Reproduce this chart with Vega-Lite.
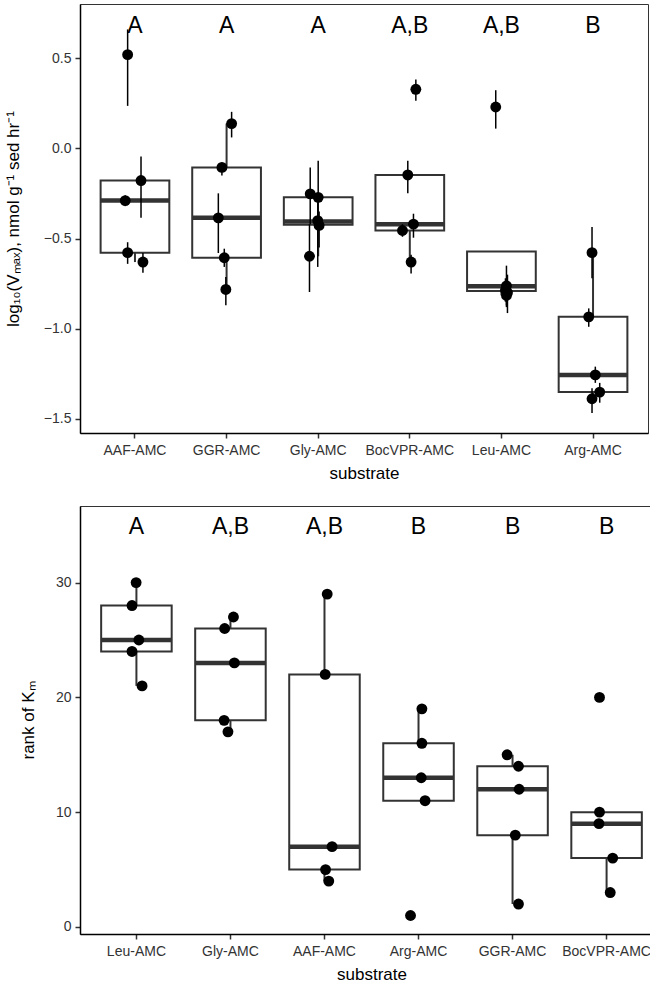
{
  "$schema": "https://vega.github.io/schema/vega-lite/v6.json",
  "background": "white",
  "padding": {"left": 3, "top": 3, "right": 2, "bottom": 0},
  "spacing": 23,
  "config": {
    "font": "Liberation Sans",
    "view": {"stroke": "#333333", "strokeWidth": 1},
    "axis": {
      "grid": false,
      "domainColor": "#000000",
      "domainWidth": 1.5,
      "tickColor": "#333333",
      "tickWidth": 1.5,
      "tickSize": 5,
      "labelColor": "#333333",
      "labelFontSize": 14,
      "labelFont": "Liberation Sans",
      "titleFont": "Liberation Sans",
      "titleFontSize": 17,
      "titleFontWeight": "normal",
      "titleColor": "#000000"
    }
  },
  "datasets": {
    "vmaxPoints": [
      {"substrate": "AAF-AMC", "value": 0.52, "lo": 0.236, "hi": 0.66, "jitter": -0.08},
      {"substrate": "AAF-AMC", "value": -0.178, "lo": -0.385, "hi": -0.044, "jitter": 0.066},
      {"substrate": "AAF-AMC", "value": -0.289, "lo": -0.32, "hi": -0.26, "jitter": -0.106},
      {"substrate": "AAF-AMC", "value": -0.578, "lo": -0.64, "hi": -0.52, "jitter": -0.08},
      {"substrate": "AAF-AMC", "value": -0.63, "lo": -0.69, "hi": -0.58, "jitter": 0.087},
      {"substrate": "GGR-AMC", "value": 0.138, "lo": 0.061, "hi": 0.203, "jitter": 0.055},
      {"substrate": "GGR-AMC", "value": -0.105, "lo": -0.15, "hi": -0.08, "jitter": -0.051},
      {"substrate": "GGR-AMC", "value": -0.385, "lo": -0.58, "hi": -0.249, "jitter": -0.09},
      {"substrate": "GGR-AMC", "value": -0.606, "lo": -0.657, "hi": -0.556, "jitter": -0.025},
      {"substrate": "GGR-AMC", "value": -0.782, "lo": -0.869, "hi": -0.713, "jitter": -0.008},
      {"substrate": "Gly-AMC", "value": -0.252, "lo": -0.42, "hi": -0.105, "jitter": -0.087},
      {"substrate": "Gly-AMC", "value": -0.271, "lo": -0.45, "hi": -0.068, "jitter": 0.0},
      {"substrate": "Gly-AMC", "value": -0.4, "lo": -0.657, "hi": -0.25, "jitter": -0.005},
      {"substrate": "Gly-AMC", "value": -0.427, "lo": -0.55, "hi": -0.35, "jitter": 0.01},
      {"substrate": "Gly-AMC", "value": -0.598, "lo": -0.796, "hi": -0.42, "jitter": -0.095},
      {"substrate": "BocVPR-AMC", "value": 0.328, "lo": 0.264, "hi": 0.383, "jitter": 0.066},
      {"substrate": "BocVPR-AMC", "value": -0.147, "lo": -0.249, "hi": -0.068, "jitter": -0.022},
      {"substrate": "BocVPR-AMC", "value": -0.42, "lo": -0.495, "hi": -0.362, "jitter": 0.04},
      {"substrate": "BocVPR-AMC", "value": -0.455, "lo": -0.49, "hi": -0.42, "jitter": -0.08},
      {"substrate": "BocVPR-AMC", "value": -0.63, "lo": -0.694, "hi": -0.59, "jitter": 0.014},
      {"substrate": "Leu-AMC", "value": 0.23, "lo": 0.11, "hi": 0.323, "jitter": -0.062},
      {"substrate": "Leu-AMC", "value": -0.762, "lo": -0.87, "hi": -0.65, "jitter": 0.055},
      {"substrate": "Leu-AMC", "value": -0.785, "lo": -0.85, "hi": -0.72, "jitter": 0.044},
      {"substrate": "Leu-AMC", "value": -0.8, "lo": -0.913, "hi": -0.7, "jitter": 0.066},
      {"substrate": "Leu-AMC", "value": -0.815, "lo": -0.88, "hi": -0.76, "jitter": 0.055},
      {"substrate": "Arg-AMC", "value": -0.578, "lo": -0.72, "hi": -0.436, "jitter": -0.011},
      {"substrate": "Arg-AMC", "value": -0.934, "lo": -0.989, "hi": -0.887, "jitter": -0.047},
      {"substrate": "Arg-AMC", "value": -1.256, "lo": -1.3, "hi": -1.21, "jitter": 0.025},
      {"substrate": "Arg-AMC", "value": -1.351, "lo": -1.41, "hi": -1.3, "jitter": 0.073},
      {"substrate": "Arg-AMC", "value": -1.388, "lo": -1.467, "hi": -1.33, "jitter": -0.011}
    ],
    "vmaxBoxes": [
      {"substrate": "AAF-AMC", "lower": -0.63, "q1": -0.578, "median": -0.289, "q3": -0.178, "upper": -0.178},
      {"substrate": "GGR-AMC", "lower": -0.782, "q1": -0.606, "median": -0.385, "q3": -0.105, "upper": 0.138},
      {"substrate": "Gly-AMC", "lower": -0.598, "q1": -0.423, "median": -0.405, "q3": -0.271, "upper": -0.252},
      {"substrate": "BocVPR-AMC", "lower": -0.63, "q1": -0.455, "median": -0.42, "q3": -0.147, "upper": -0.147},
      {"substrate": "Leu-AMC", "lower": -0.815, "q1": -0.79, "median": -0.764, "q3": -0.571, "upper": -0.571},
      {"substrate": "Arg-AMC", "lower": -1.388, "q1": -1.351, "median": -1.256, "q3": -0.934, "upper": -0.578}
    ],
    "vmaxLetters": [
      {"substrate": "AAF-AMC", "label": "A"},
      {"substrate": "GGR-AMC", "label": "A"},
      {"substrate": "Gly-AMC", "label": "A"},
      {"substrate": "BocVPR-AMC", "label": "A,B"},
      {"substrate": "Leu-AMC", "label": "A,B"},
      {"substrate": "Arg-AMC", "label": "B"}
    ],
    "kmPoints": [
      {"substrate": "Leu-AMC", "rank": 30, "jitter": 0.01},
      {"substrate": "Leu-AMC", "rank": 28, "jitter": -0.035},
      {"substrate": "Leu-AMC", "rank": 25, "jitter": 0.04},
      {"substrate": "Leu-AMC", "rank": 24, "jitter": -0.035},
      {"substrate": "Leu-AMC", "rank": 21, "jitter": 0.075},
      {"substrate": "Gly-AMC", "rank": 27, "jitter": 0.046},
      {"substrate": "Gly-AMC", "rank": 26, "jitter": -0.05},
      {"substrate": "Gly-AMC", "rank": 23, "jitter": 0.056},
      {"substrate": "Gly-AMC", "rank": 18, "jitter": -0.056},
      {"substrate": "Gly-AMC", "rank": 17, "jitter": -0.014},
      {"substrate": "AAF-AMC", "rank": 29, "jitter": 0.043},
      {"substrate": "AAF-AMC", "rank": 22, "jitter": 0.021},
      {"substrate": "AAF-AMC", "rank": 7, "jitter": 0.096},
      {"substrate": "AAF-AMC", "rank": 5, "jitter": 0.025},
      {"substrate": "AAF-AMC", "rank": 4, "jitter": 0.06},
      {"substrate": "Arg-AMC", "rank": 19, "jitter": 0.05},
      {"substrate": "Arg-AMC", "rank": 16, "jitter": 0.05},
      {"substrate": "Arg-AMC", "rank": 13, "jitter": 0.043},
      {"substrate": "Arg-AMC", "rank": 11, "jitter": 0.085},
      {"substrate": "Arg-AMC", "rank": 1, "jitter": -0.074},
      {"substrate": "GGR-AMC", "rank": 15, "jitter": -0.046},
      {"substrate": "GGR-AMC", "rank": 14, "jitter": 0.078},
      {"substrate": "GGR-AMC", "rank": 12, "jitter": 0.085},
      {"substrate": "GGR-AMC", "rank": 8, "jitter": 0.043},
      {"substrate": "GGR-AMC", "rank": 2, "jitter": 0.078},
      {"substrate": "BocVPR-AMC", "rank": 20, "jitter": -0.064},
      {"substrate": "BocVPR-AMC", "rank": 10, "jitter": -0.064},
      {"substrate": "BocVPR-AMC", "rank": 9, "jitter": -0.07},
      {"substrate": "BocVPR-AMC", "rank": 6, "jitter": 0.08},
      {"substrate": "BocVPR-AMC", "rank": 3, "jitter": 0.053}
    ],
    "kmBoxes": [
      {"substrate": "Leu-AMC", "lower": 21, "q1": 24, "median": 25, "q3": 28, "upper": 30},
      {"substrate": "Gly-AMC", "lower": 17, "q1": 18, "median": 23, "q3": 26, "upper": 27},
      {"substrate": "AAF-AMC", "lower": 4, "q1": 5, "median": 7, "q3": 22, "upper": 29},
      {"substrate": "Arg-AMC", "lower": 11, "q1": 11, "median": 13, "q3": 16, "upper": 19},
      {"substrate": "GGR-AMC", "lower": 2, "q1": 8, "median": 12, "q3": 14, "upper": 15},
      {"substrate": "BocVPR-AMC", "lower": 3, "q1": 6, "median": 9, "q3": 10, "upper": 10}
    ],
    "kmLetters": [
      {"substrate": "Leu-AMC", "label": "A"},
      {"substrate": "Gly-AMC", "label": "A,B"},
      {"substrate": "AAF-AMC", "label": "A,B"},
      {"substrate": "Arg-AMC", "label": "B"},
      {"substrate": "GGR-AMC", "label": "B"},
      {"substrate": "BocVPR-AMC", "label": "B"}
    ]
  },
  "vconcat": [
    {
      "width": 568,
      "height": 429,
      "layer": [
        {
          "data": {"name": "vmaxBoxes"},
          "mark": {"type": "rule", "color": "#333333", "strokeWidth": 2},
          "encoding": {
            "x": {"field": "substrate", "type": "nominal",
                  "scale": {"type": "band", "domain": ["AAF-AMC", "GGR-AMC", "Gly-AMC", "BocVPR-AMC", "Leu-AMC", "Arg-AMC"], "paddingInner": 0, "paddingOuter": 0.1},
                  "axis": {"title": "substrate", "labelAngle": 0, "labelPadding": 5, "titlePadding": 8.5}},
            "y": {"field": "lower", "type": "quantitative",
                  "scale": {"domain": [-1.578, 0.801], "nice": false, "zero": false},
                  "axis": {"title": "log₁₀(Vₘₐₓ), nmol g⁻¹ sed hr⁻¹", "values": [-1.5, -1, -0.5, 0, 0.5], "format": ".1f", "minExtent": 54, "maxExtent": 54, "titlePadding": 4, "labelPadding": 4}},
            "y2": {"field": "q1"}
          }
        },
        {
          "data": {"name": "vmaxBoxes"},
          "mark": {"type": "rule", "color": "#333333", "strokeWidth": 2},
          "encoding": {
            "x": {"field": "substrate", "type": "nominal", "title": "substrate"},
            "y": {"field": "q3", "type": "quantitative", "title": "log₁₀(Vₘₐₓ), nmol g⁻¹ sed hr⁻¹"},
            "y2": {"field": "upper"}
          }
        },
        {
          "data": {"name": "vmaxBoxes"},
          "mark": {"type": "rect", "fill": "white", "stroke": "#333333", "strokeWidth": 2},
          "encoding": {
            "x": {"field": "substrate", "type": "nominal", "bandPosition": 0.125, "title": "substrate"},
            "x2": {"field": "substrate", "bandPosition": 0.875},
            "y": {"field": "q1", "type": "quantitative", "title": "log₁₀(Vₘₐₓ), nmol g⁻¹ sed hr⁻¹"},
            "y2": {"field": "q3"}
          }
        },
        {
          "data": {"name": "vmaxBoxes"},
          "mark": {"type": "tick", "color": "#333333", "thickness": 4.5, "size": 68.7, "opacity": 1},
          "encoding": {
            "x": {"field": "substrate", "type": "nominal", "title": "substrate"},
            "y": {"field": "median", "type": "quantitative", "title": "log₁₀(Vₘₐₓ), nmol g⁻¹ sed hr⁻¹"}
          }
        },
        {
          "data": {"name": "vmaxPoints"},
          "mark": {"type": "rule", "color": "#000000", "strokeWidth": 1.5},
          "encoding": {
            "x": {"field": "substrate", "type": "nominal", "title": "substrate"},
            "xOffset": {"field": "jitter", "type": "quantitative", "scale": {"domain": [-0.5, 0.5], "range": [0, 91.61]}},
            "y": {"field": "lo", "type": "quantitative", "title": "log₁₀(Vₘₐₓ), nmol g⁻¹ sed hr⁻¹"},
            "y2": {"field": "hi"}
          }
        },
        {
          "data": {"name": "vmaxPoints"},
          "mark": {"type": "circle", "color": "#000000", "opacity": 1, "size": 118},
          "encoding": {
            "x": {"field": "substrate", "type": "nominal", "title": "substrate"},
            "xOffset": {"field": "jitter", "type": "quantitative"},
            "y": {"field": "value", "type": "quantitative", "title": "log₁₀(Vₘₐₓ), nmol g⁻¹ sed hr⁻¹"}
          }
        },
        {
          "data": {"name": "vmaxLetters"},
          "mark": {"type": "text", "fontSize": 23, "baseline": "middle", "align": "center", "color": "#000000", "font": "Liberation Sans"},
          "encoding": {
            "x": {"field": "substrate", "type": "nominal", "title": "substrate"},
            "y": {"datum": 0.68, "type": "quantitative"},
            "text": {"field": "label"}
          }
        }
      ]
    },
    {
      "width": 583,
      "height": 428,
      "layer": [
        {
          "data": {"name": "kmBoxes"},
          "mark": {"type": "rule", "color": "#333333", "strokeWidth": 2},
          "encoding": {
            "x": {"field": "substrate", "type": "nominal",
                  "scale": {"type": "band", "domain": ["Leu-AMC", "Gly-AMC", "AAF-AMC", "Arg-AMC", "GGR-AMC", "BocVPR-AMC"], "paddingInner": 0, "paddingOuter": 0.1},
                  "axis": {"title": "substrate", "labelAngle": 0, "labelPadding": 5, "titlePadding": 8}},
            "y": {"field": "lower", "type": "quantitative",
                  "scale": {"domain": [-0.61, 36.67], "nice": false, "zero": false},
                  "axis": {"title": "rank of Kₘ", "values": [0, 10, 20, 30], "minExtent": 39, "maxExtent": 39, "titlePadding": 4, "labelPadding": 4}},
            "y2": {"field": "q1"}
          }
        },
        {
          "data": {"name": "kmBoxes"},
          "mark": {"type": "rule", "color": "#333333", "strokeWidth": 2},
          "encoding": {
            "x": {"field": "substrate", "type": "nominal", "title": "substrate"},
            "y": {"field": "q3", "type": "quantitative", "title": "rank of Kₘ"},
            "y2": {"field": "upper"}
          }
        },
        {
          "data": {"name": "kmBoxes"},
          "mark": {"type": "rect", "fill": "white", "stroke": "#333333", "strokeWidth": 2},
          "encoding": {
            "x": {"field": "substrate", "type": "nominal", "bandPosition": 0.125, "title": "substrate"},
            "x2": {"field": "substrate", "bandPosition": 0.875},
            "y": {"field": "q1", "type": "quantitative", "title": "rank of Kₘ"},
            "y2": {"field": "q3"}
          }
        },
        {
          "data": {"name": "kmBoxes"},
          "mark": {"type": "tick", "color": "#333333", "thickness": 4.5, "size": 70.5, "opacity": 1},
          "encoding": {
            "x": {"field": "substrate", "type": "nominal", "title": "substrate"},
            "y": {"field": "median", "type": "quantitative", "title": "rank of Kₘ"}
          }
        },
        {
          "data": {"name": "kmPoints"},
          "mark": {"type": "circle", "color": "#000000", "opacity": 1, "size": 118},
          "encoding": {
            "x": {"field": "substrate", "type": "nominal", "title": "substrate"},
            "xOffset": {"field": "jitter", "type": "quantitative", "scale": {"domain": [-0.5, 0.5], "range": [0, 94.03]}},
            "y": {"field": "rank", "type": "quantitative", "title": "rank of Kₘ"}
          }
        },
        {
          "data": {"name": "kmLetters"},
          "mark": {"type": "text", "fontSize": 23, "baseline": "middle", "align": "center", "color": "#000000", "font": "Liberation Sans"},
          "encoding": {
            "x": {"field": "substrate", "type": "nominal", "title": "substrate"},
            "y": {"datum": 34.8, "type": "quantitative"},
            "text": {"field": "label"}
          }
        }
      ]
    }
  ]
}
